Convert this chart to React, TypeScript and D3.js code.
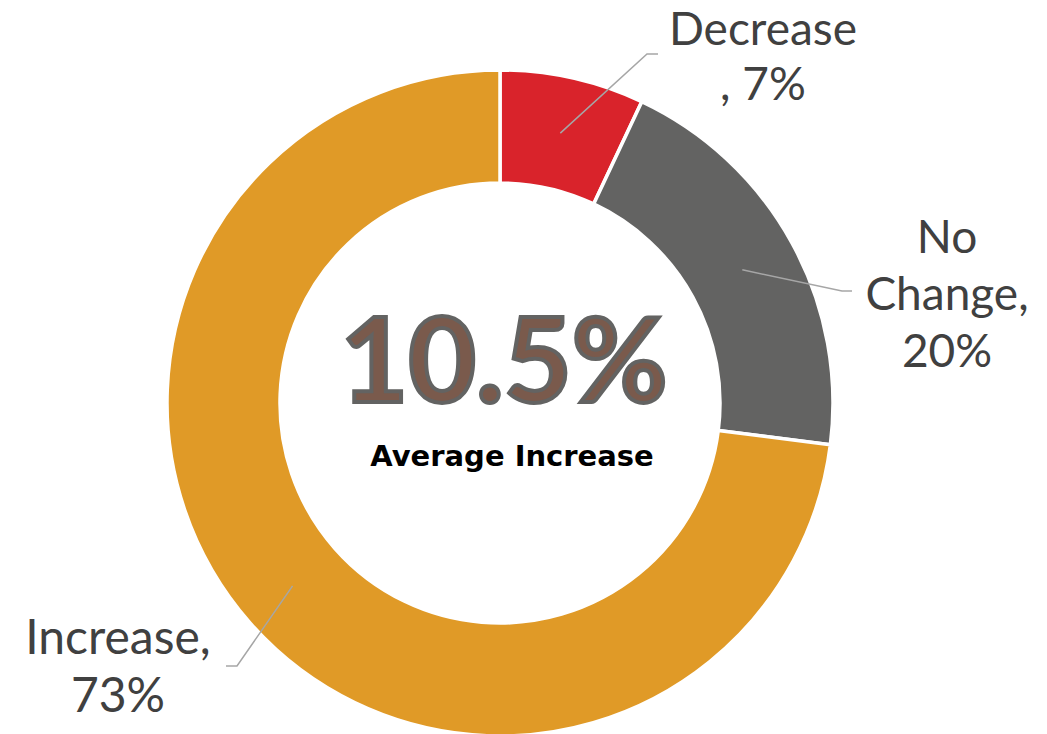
import * as d3 from 'd3';
import React, { useEffect, useRef } from 'react';

const categories = ['Decrease', 'No Change', 'Increase'];
const shares = [7, 20, 73];
const colors = ['#D9232B', '#636362', '#E09A27'];
// label lines as they are broken in the chart
const labelLines = [['Decrease', ', 7%'], ['No', 'Change,', '20%'], ['Increase,', '73%']];
const centerValue = '10.5%';
const centerCaption = 'Average Increase';

const App = () => {
  const ref = useRef<SVGSVGElement>(null);

  useEffect(() => {
    const width = 1047, height = 734;
    const cx = 500, cy = 403;
    const outerR = 333, innerR = 220;

    const svg = d3.select(ref.current);
    svg.selectAll('*').remove();

    const g = svg.append('g').attr('transform', `translate(${cx},${cy})`);

    const data = categories.map((c, i) => ({ name: c, value: shares[i], color: colors[i], lines: labelLines[i] }));
    const pie = d3.pie<any>().sort(null).value(d => d.value);
    const arc = d3.arc<any>().innerRadius(innerR).outerRadius(outerR);
    const arcs = pie(data);

    g.selectAll('path.slice')
      .data(arcs)
      .enter().append('path')
      .attr('class', 'slice')
      .attr('d', arc)
      .attr('fill', d => d.data.color)
      .attr('stroke', '#ffffff')
      .attr('stroke-width', 3.5);

    // label placement (relative to the centre): knee of the leader line, tick direction, text position
    const layout = [
      { knee: [147, -349], tick: 11, x: 263, y: -358, lh: 55, fs: 46 },
      { knee: [342, -112], tick: 10, x: 447, y: -150, lh: 57, fs: 46 },
      { knee: [-263, 263], tick: -11, x: -382, y: 251, lh: 58, fs: 48 },
    ];

    arcs.forEach((d, i) => {
      const L = layout[i];
      const p0 = arc.centroid(d);
      const p1 = L.knee;
      const p2 = [p1[0] + L.tick, p1[1]];
      g.append('polyline')
        .attr('points', [p0, p1, p2].map(p => p.join(',')).join(' '))
        .attr('fill', 'none')
        .attr('stroke', '#A6A6A6')
        .attr('stroke-width', 1.5);

      const t = g.append('text')
        .attr('x', L.x)
        .attr('y', L.y)
        .attr('text-anchor', 'middle')
        .attr('font-family', 'Lato, sans-serif')
        .attr('font-size', L.fs)
        .attr('fill', '#404040');
      d.data.lines.forEach((line: string, j: number) => {
        t.append('tspan')
          .attr('x', L.x)
          .attr('dy', j === 0 ? 0 : L.lh)
          .text(line);
      });
    });

    g.append('text')
      .attr('x', 4)
      .attr('y', -1)
      .attr('text-anchor', 'middle')
      .attr('font-family', 'Lato, sans-serif')
      .attr('font-weight', 700)
      .attr('font-size', 117)
      .attr('fill', '#7A5A4C')
      .attr('stroke', '#636362')
      .attr('stroke-width', 4)
      .text(centerValue);

    g.append('text')
      .attr('x', 12)
      .attr('y', 63)
      .attr('text-anchor', 'middle')
      .attr('font-family', '"DejaVu Sans", sans-serif')
      .attr('font-weight', 700)
      .attr('font-size', 29)
      .attr('fill', '#000000')
      .text(centerCaption);

    svg.attr('width', width).attr('height', height);
  }, []);

  return (
    <svg ref={ref} width={1047} height={734}
      style={{ position: 'absolute', left: 0, top: 0, background: '#ffffff' }} />
  );
};

export default App;
